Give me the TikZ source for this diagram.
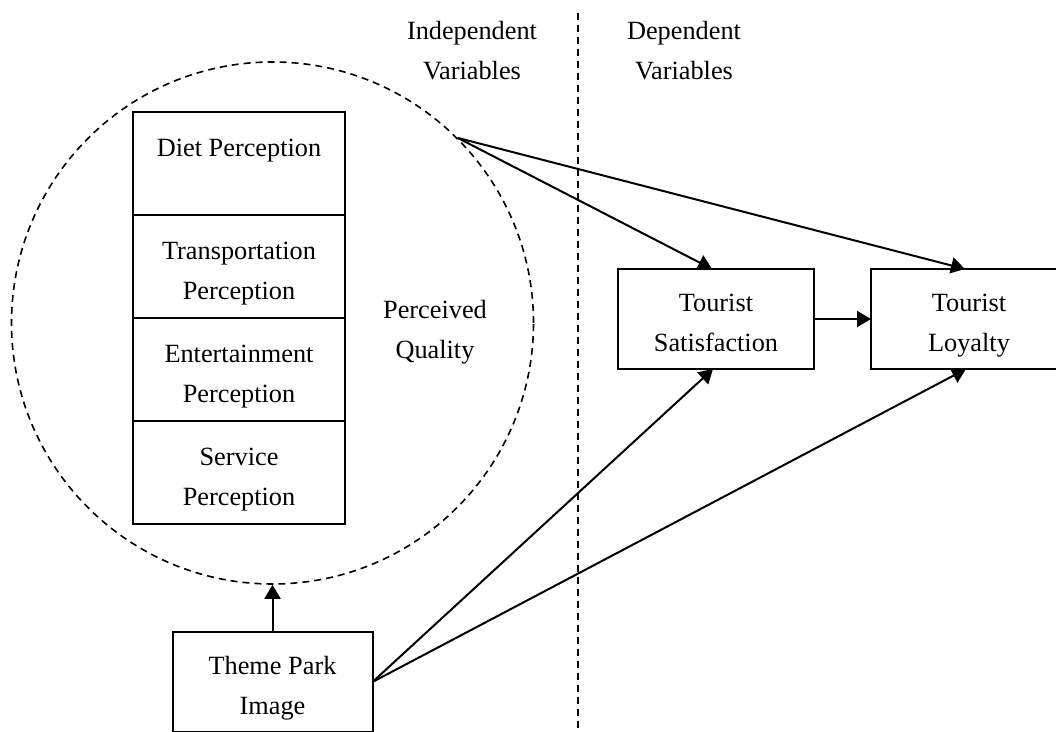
\documentclass[tikz,border=0pt]{standalone}
\usepackage{fontspec}
\setmainfont{Liberation Serif}
\usepackage{tikz}
\usetikzlibrary{arrows.meta,positioning}

\newcommand{\twolines}[2]{\rule{0pt}{15pt}#1\\#2\rule[-2pt]{0pt}{2pt}}

\begin{document}
\begin{tikzpicture}[x=0.5pt,y=0.5pt,
  font=\fontsize{13.15}{20}\selectfont,
  box/.style={draw,line width=1pt,align=center,inner sep=0pt,outer sep=0pt},
  stackbox/.style={box,minimum width=106pt,minimum height=51.5pt},
  varbox/.style={box,minimum width=98pt,minimum height=50pt},
  link/.style={line width=1pt,-{Triangle[length=7pt,width=8pt]}},
  divider/.style={line width=1pt,dash pattern=on 3.5pt off 2.5pt}]
\useasboundingbox (0,0) rectangle (1056,732);
\node[draw,circle,line width=0.8pt,dash pattern=on 3.5pt off 2.5pt,
  minimum size=261pt,inner sep=0pt] (pq) at (272.5,409) {};
\node[stackbox] (diet) at (239,568) {\twolines{Diet Perception}{}};
\node[stackbox,below=0pt of diet] (trans) {\twolines{Transportation}{Perception}};
\node[stackbox,below=0pt of trans] (ent) {\twolines{Entertainment}{Perception}};
\node[stackbox,below=0pt of ent] (serv) {\twolines{Service}{Perception}};
\node[align=center] (pqlabel) at (435,406) {\twolines{Perceived}{Quality}};
\node[box,minimum width=100pt,minimum height=50pt] (image) at (272.5,50) {\twolines{Theme Park}{Image}};
\node[varbox] (sat) at (716,413) {\twolines{Tourist}{Satisfaction}};
\node[varbox] (loy) at (969,413) {\twolines{Tourist}{Loyalty}};
\node[align=center] (indep) at (472,685) {\twolines{Independent}{Variables}};
\node[align=center] (dep) at (684,685) {\twolines{Dependent}{Variables}};
\coordinate (divtop) at (578,719);
\coordinate (divbot) at (578,0);
\draw[divider] (divtop) -- (divbot);
\draw[link] (image.north) -- (pq.south);
\draw[link] (pq.north east) -- ([xshift=-2pt]sat.north);
\draw[link] (pq.north east) -- ([xshift=-2pt]loy.north);
\draw[link] (image.east) -- ([xshift=-1.5pt]sat.south);
\draw[link] (image.east) -- ([xshift=-1.5pt]loy.south);
\draw[link] (sat.east) -- (loy.west);
\end{tikzpicture}
\end{document}
